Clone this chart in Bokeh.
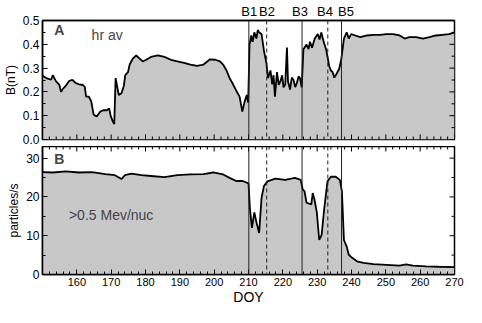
import math
from bokeh.plotting import figure
from bokeh.models import Range1d, FixedTicker, LinearAxis, Span, Label, NumeralTickFormatter
from bokeh.layouts import column
from bokeh.embed import file_html
from bokeh.resources import INLINE

# ---- data ----
b_doy = [150.0, 151.1, 152.5, 153.0, 153.9, 154.9, 155.4, 155.8, 156.8, 157.7, 158.7, 159.6,
         160.6, 161.6, 162.3, 162.7, 163.5, 164.2, 164.9, 165.8, 166.8, 167.7, 168.7, 169.4,
         169.9, 170.6, 170.9, 171.3, 171.8, 172.2, 173.0, 173.7, 174.1, 174.9, 175.4, 176.3,
         177.3, 178.3, 179.2, 180.2, 181.6, 183.6, 185.5, 187.4, 189.3, 191.2, 193.1, 195.0,
         196.9, 198.8, 200.3, 201.7, 202.6, 203.6, 204.5, 205.5, 206.4, 207.4, 208.2, 208.8,
         209.5, 209.9, 210.3, 210.8, 211.2, 211.7, 212.3, 212.7, 213.1, 213.8, 214.5, 215.2,
         215.7, 216.4, 216.9, 217.3, 217.7, 218.3, 218.8, 219.3, 219.8, 220.2, 220.7, 221.2,
         221.5, 222.1, 222.6, 223.1, 223.6, 224.1, 224.6, 225.0, 225.5, 226.0, 226.9, 227.5,
         227.9, 228.5, 229.3, 230.2, 230.7, 231.2, 231.9, 232.6, 233.5, 234.0, 234.5, 235.0,
         235.4, 236.4, 237.0, 237.8, 238.6, 239.2, 239.9, 241.1, 242.6, 244.5, 246.4, 248.3,
         250.2, 252.1, 254.0, 255.5, 256.9, 258.8, 260.8, 262.7, 264.6, 266.5, 268.4, 269.4,
         270.0]
b_nt = [0.268, 0.258, 0.251, 0.270, 0.245, 0.230, 0.200, 0.210, 0.226, 0.245, 0.251, 0.238,
        0.232, 0.230, 0.222, 0.180, 0.180, 0.160, 0.104, 0.097, 0.117, 0.123, 0.123, 0.130,
        0.097, 0.072, 0.065, 0.258, 0.219, 0.187, 0.194, 0.226, 0.270, 0.283, 0.315, 0.340,
        0.353, 0.340, 0.328, 0.335, 0.347, 0.353, 0.347, 0.335, 0.328, 0.322, 0.315, 0.309,
        0.315, 0.337, 0.335, 0.328, 0.315, 0.290, 0.258, 0.232, 0.206, 0.180, 0.117, 0.155,
        0.187, 0.155, 0.399, 0.437, 0.410, 0.450, 0.424, 0.460, 0.450, 0.443, 0.373, 0.322,
        0.258, 0.290, 0.232, 0.270, 0.180, 0.283, 0.230, 0.245, 0.270, 0.219, 0.232, 0.386,
        0.245, 0.210, 0.260, 0.251, 0.220, 0.238, 0.265, 0.258, 0.219, 0.379, 0.399, 0.380,
        0.411, 0.386, 0.424, 0.443, 0.420, 0.450, 0.411, 0.379, 0.309, 0.290, 0.283, 0.260,
        0.270, 0.296, 0.335, 0.424, 0.450, 0.424, 0.443, 0.437, 0.430, 0.437, 0.440, 0.440,
        0.443, 0.443, 0.437, 0.424, 0.430, 0.430, 0.424, 0.430, 0.437, 0.440, 0.443, 0.447,
        0.450]

p_doy = [150.0, 153.0, 156.8, 160.6, 164.4, 168.3, 171.1, 173.0, 174.0, 175.9, 178.8, 181.6,
         185.5, 189.3, 193.1, 196.9, 199.7, 202.6, 204.5, 206.4, 208.3, 210.0, 210.4, 211.0,
         211.7, 212.3, 213.1, 213.8, 214.5, 215.5, 217.8, 220.7, 223.5, 225.2, 225.8, 226.3,
         226.9, 228.3, 228.7, 229.2, 229.9, 230.6, 231.3, 232.0, 233.0, 234.0, 235.4, 236.6,
         237.2, 237.8, 238.6, 239.2, 240.2, 241.6, 243.5, 246.4, 250.2, 254.0, 255.9, 257.9,
         261.7, 265.5, 270.0]
p_rate = [26.4, 26.3, 26.6, 26.3, 26.4, 25.9, 25.6, 24.6, 25.6, 26.0, 25.6, 25.4,
          25.1, 25.6, 25.8, 25.9, 26.3, 25.8, 24.9, 24.1, 24.1, 23.5, 17.2, 12.0,
          16.0, 13.5, 10.7, 19.8, 22.8, 24.0, 24.7, 24.4, 24.9, 24.4, 21.9, 21.5,
          18.5, 18.1, 21.0, 19.4, 16.0, 8.9, 10.2, 16.5, 24.0, 25.2, 25.2, 24.4,
          21.5, 8.9, 7.2, 5.1, 4.3, 3.4, 3.0, 2.7, 2.5, 2.3, 2.6, 2.3,
          2.1, 2.0, 1.9]

boundary_names = ["B1", "B2", "B3", "B4", "B5"]
boundary_doy = [210.1, 215.3, 225.6, 233.1, 237.1]
boundary_label_doy = [210.2, 215.4, 225.0, 232.3, 238.4]
boundary_dash = ["solid", "4 3", "solid", "4 3", "solid"]

x_major = [160, 170, 180, 190, 200, 210, 220, 230, 240, 250, 260, 270]
x_minor = [d for d in range(150, 271, 2) if d % 10 != 0]
b_major = [0, 0.1, 0.2, 0.3, 0.4, 0.5]
b_minor = [0.05, 0.15, 0.25, 0.35, 0.45]
p_major = [0, 10, 20, 30]
p_minor = [5, 15, 25]

FONT = "Liberation Sans"
FILL = "#c8c8c8"
X0, X1 = 150, 270


def style_axis(ax, size="12px"):
    ax.major_tick_in = 5
    ax.major_tick_out = 0
    ax.minor_tick_in = 3
    ax.minor_tick_out = 0
    ax.axis_line_width = 1.5
    ax.axis_line_color = "black"
    ax.major_tick_line_color = "black"
    ax.minor_tick_line_color = "black"
    ax.major_label_text_font = FONT
    ax.major_label_text_color = "black"
    ax.major_label_text_font_size = size
    ax.major_label_text_line_height = 1.0
    ax.major_label_standoff = 3
    ax.axis_label_text_font = FONT
    ax.axis_label_text_font_style = "normal"
    ax.axis_label_text_color = "black"
    ax.axis_label_text_font_size = "12px"
    ax.axis_label_text_line_height = 1.0
    ax.axis_label_standoff = 2


def base_fig(height, yr, top, bottom, x_loc):
    p = figure(width=466, height=height, x_range=Range1d(X0, X1), y_range=yr,
               output_backend="svg", toolbar_location=None,
               min_border_left=38, min_border_right=12,
               min_border_top=top, min_border_bottom=bottom,
               x_axis_location=x_loc)
    p.grid.visible = False
    p.outline_line_color = "black"
    p.outline_line_width = 1.5
    p.background_fill_color = "white"
    p.border_fill_color = "white"
    return p


def inner_ticks(p, xs_major, xs_minor, y_edge=None, x_edge=None, ys_major=None, ys_minor=None):
    # unlabeled inward ticks: half of each dash lies outside the frame and is clipped
    if y_edge is not None:
        p.scatter(xs_major, [y_edge] * len(xs_major), marker="dash", angle=math.pi / 2,
                  size=10, line_color="black", line_width=1)
        p.scatter(xs_minor, [y_edge] * len(xs_minor), marker="dash", angle=math.pi / 2,
                  size=6, line_color="black", line_width=1)
    if x_edge is not None:
        p.scatter([x_edge] * len(ys_major), ys_major, marker="dash",
                  size=10, line_color="black", line_width=1)
        p.scatter([x_edge] * len(ys_minor), ys_minor, marker="dash",
                  size=6, line_color="black", line_width=1)


# ---- top panel ----
p1 = base_fig(146, Range1d(0, 0.5), 0, 7, None)
p1.varea(x=b_doy, y1=0, y2=b_nt, color=FILL)
p1.line(b_doy, b_nt, line_color="black", line_width=1.8)
p1.yaxis.ticker = FixedTicker(ticks=b_major, minor_ticks=b_minor)
p1.yaxis.formatter = NumeralTickFormatter(format="0.0")
p1.yaxis.axis_label = "B(nT)"
style_axis(p1.yaxis[0])
inner_ticks(p1, x_major, x_minor, y_edge=0)
inner_ticks(p1, None, None, x_edge=X1, ys_major=b_major, ys_minor=b_minor)
top_ax = LinearAxis(ticker=FixedTicker(ticks=boundary_label_doy, minor_ticks=[]),
                    major_label_overrides={d: n for d, n in zip(boundary_label_doy, boundary_names)})
style_axis(top_ax, size="13px")
top_ax.major_tick_in = 0
top_ax.minor_tick_in = 0
top_ax.major_label_standoff = 2
p1.add_layout(top_ax, "above")

# ---- bottom panel ----
p2 = base_fig(161, Range1d(0, 33), 0, 0, "below")
p2.varea(x=p_doy, y1=0, y2=p_rate, color=FILL)
p2.line(p_doy, p_rate, line_color="black", line_width=1.8)
p2.xaxis.ticker = FixedTicker(ticks=x_major, minor_ticks=x_minor)
p2.xaxis.axis_label = "DOY"
style_axis(p2.xaxis[0], size="11px")
p2.xaxis.axis_label_text_font_size = "14px"
p2.xaxis.axis_label_standoff = 0
p2.xaxis.major_label_standoff = 3
p2.yaxis.ticker = FixedTicker(ticks=p_major, minor_ticks=p_minor)
p2.yaxis.axis_label = "particles/s"
style_axis(p2.yaxis[0])
inner_ticks(p2, x_major, x_minor, y_edge=33)
inner_ticks(p2, None, None, x_edge=X1, ys_major=p_major, ys_minor=p_minor)

for p in (p1, p2):
    for d, dash in zip(boundary_doy, boundary_dash):
        p.add_layout(Span(location=d, dimension="height", line_color="#222222",
                          line_width=1, line_dash=dash))

p1.add_layout(Label(x=153.4, y=0.458, text="A", text_font=FONT, text_font_style="bold",
                    text_font_size="14px", text_baseline="middle"))
p1.add_layout(Label(x=164.3, y=0.438, text="hr av", text_font=FONT,
                    text_font_size="14px", text_baseline="middle"))
p2.add_layout(Label(x=153.4, y=29.7, text="B", text_font=FONT, text_font_style="bold",
                    text_font_size="14px", text_baseline="middle"))
p2.add_layout(Label(x=157.7, y=15.4, text=">0.5 Mev/nuc", text_font=FONT,
                    text_font_size="14px", text_baseline="middle"))

layout = column(p1, p2, spacing=0)
open("out.html", "w").write(file_html(layout, INLINE))
